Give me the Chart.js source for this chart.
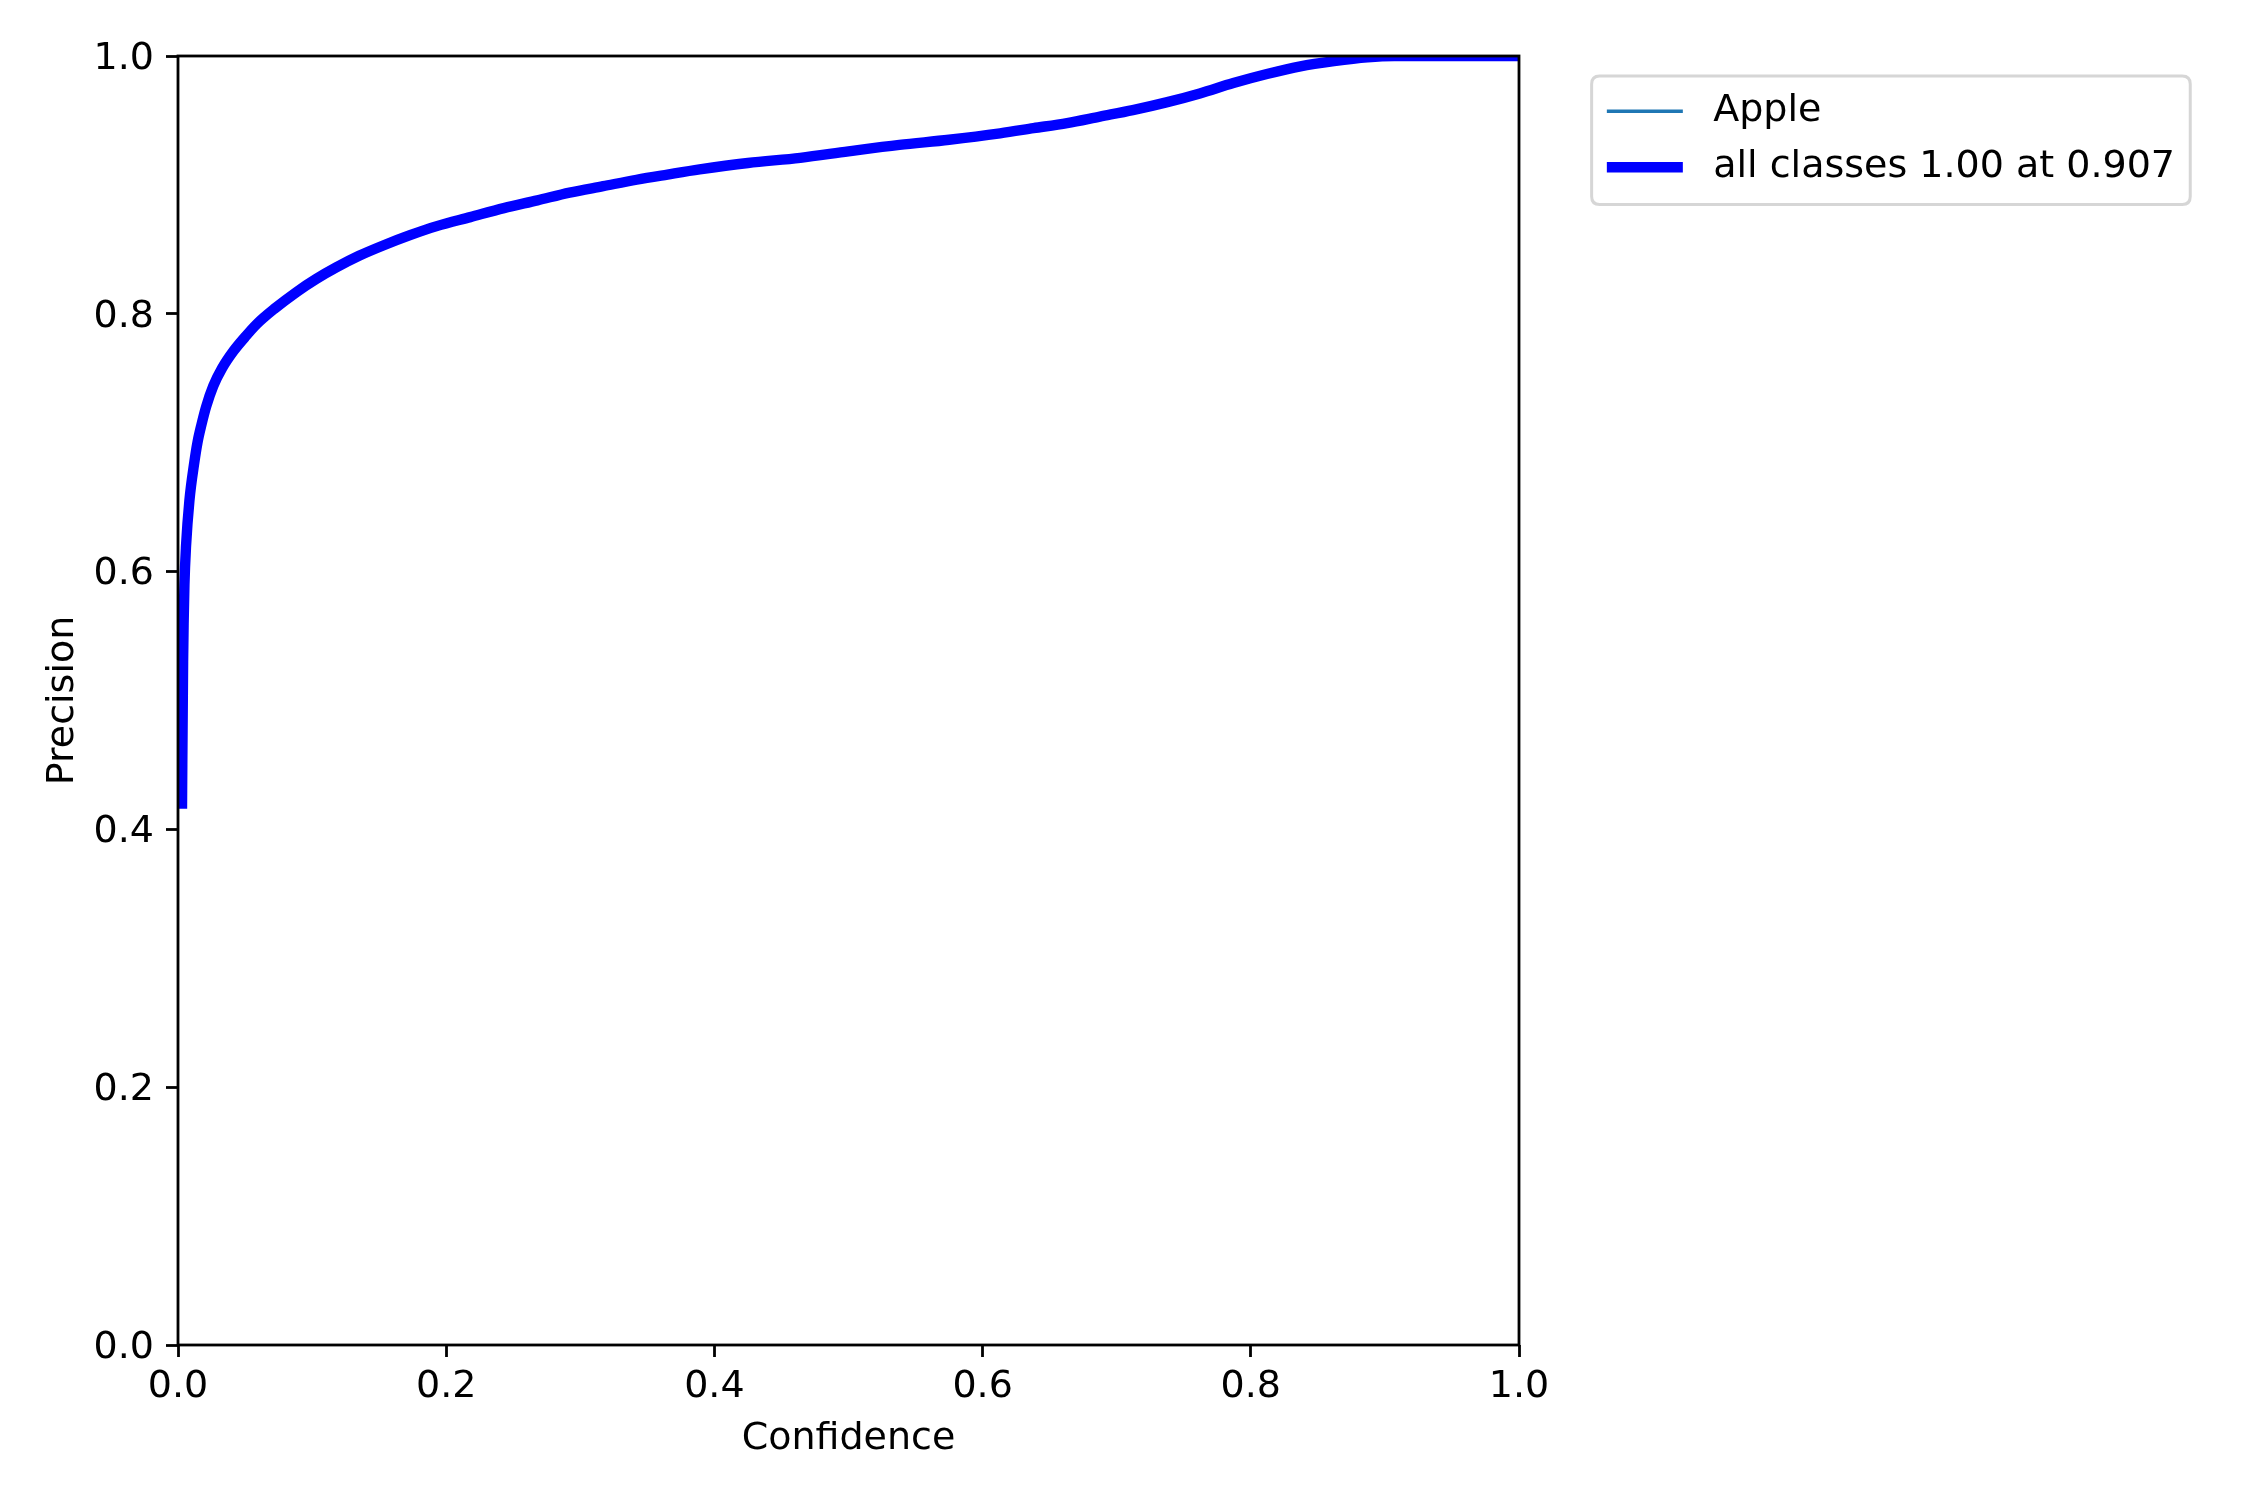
<!DOCTYPE html>
<html>
<head>
<meta charset="utf-8">
<script src="https://cdn.jsdelivr.net/npm/chart.js@4.4.1/dist/chart.umd.min.js"></script>
<style>
html,body{margin:0;padding:0;background:#ffffff;}
canvas{display:block;}
</style>
</head>
<body>
<canvas id="c" width="2250" height="1500"></canvas>
<script>
// ---- data ----
const confidence = [0.003, 0.0032, 0.0035, 0.0038, 0.0042, 0.0048, 0.006, 0.0085, 0.0122, 0.0145, 0.0175, 0.021, 0.0263, 0.033, 0.0413, 0.05, 0.0587, 0.072, 0.0885, 0.103, 0.118, 0.135, 0.153, 0.173, 0.193, 0.218, 0.243, 0.268, 0.292, 0.317, 0.342, 0.365, 0.389, 0.425, 0.464, 0.50, 0.538, 0.575, 0.613, 0.638, 0.663, 0.6875, 0.712, 0.737, 0.762, 0.787, 0.812, 0.837, 0.862, 0.887, 0.907, 1.0];
const precisionAll = [0.42, 0.45, 0.49, 0.53, 0.56, 0.59, 0.62, 0.655, 0.685, 0.70, 0.714, 0.728, 0.744, 0.758, 0.771, 0.782, 0.792, 0.804, 0.817, 0.827, 0.836, 0.845, 0.853, 0.861, 0.868, 0.875, 0.882, 0.888, 0.894, 0.899, 0.904, 0.908, 0.912, 0.917, 0.921, 0.926, 0.931, 0.935, 0.940, 0.944, 0.948, 0.953, 0.958, 0.964, 0.971, 0.979, 0.986, 0.992, 0.996, 0.999, 1.0, 1.0];
// single class: the class curve is the same as the all-classes curve
const precisionApple = precisionAll.slice();
const seriesNames = ['Apple', 'all classes 1.00 at 0.907'];
const xTickValues = [0, 0.2, 0.4, 0.6, 0.8, 1.0];
const xTickLabels = ['0.0', '0.2', '0.4', '0.6', '0.8', '1.0'];
const yTickValues = [0, 0.2, 0.4, 0.6, 0.8, 1.0];
const yTickLabels = ['0.0', '0.2', '0.4', '0.6', '0.8', '1.0'];
const xTitle = 'Confidence';
const yTitle = 'Precision';

// ---- styling ----
const FONT = 'DejaVu Sans';
const FS = 38;
const toPts = (xs, ys) => xs.map((x, i) => ({x: x, y: ys[i]}));

const spinesPlugin = {
  id: 'spines',
  afterDatasetsDraw(chart) {
    const {ctx, chartArea: a} = chart;
    ctx.save();
    ctx.strokeStyle = '#000000';
    ctx.lineWidth = 2.8;
    ctx.strokeRect(a.left, a.top, a.right - a.left, a.bottom - a.top);
    ctx.restore();
  }
};

const legendPlugin = {
  id: 'mplLegend',
  afterDraw(chart) {
    const {ctx, chartArea: a} = chart;
    const ds = chart.data.datasets;
    ctx.save();
    ctx.font = FS + 'px "' + FONT + '"';
    const pad = 0.4 * FS, handleLen = 2.0 * FS, textPad = 0.8 * FS, axPad = 0.5 * FS;
    const rowH = 56;
    const L = a.right + 0.04 * (a.right - a.left) + axPad;
    const T = a.top + axPad + 1;
    let maxW = 0;
    ds.forEach(d => { maxW = Math.max(maxW, ctx.measureText(d.label).width); });
    const W = pad + handleLen + textPad + maxW + pad;
    const H = pad * 2 + rowH * ds.length - 14;
    // box
    const r = 8;
    ctx.beginPath();
    ctx.moveTo(L + r, T);
    ctx.lineTo(L + W - r, T);
    ctx.quadraticCurveTo(L + W, T, L + W, T + r);
    ctx.lineTo(L + W, T + H - r);
    ctx.quadraticCurveTo(L + W, T + H, L + W - r, T + H);
    ctx.lineTo(L + r, T + H);
    ctx.quadraticCurveTo(L, T + H, L, T + H - r);
    ctx.lineTo(L, T + r);
    ctx.quadraticCurveTo(L, T, L + r, T);
    ctx.closePath();
    ctx.fillStyle = '#ffffff';
    ctx.fill();
    ctx.strokeStyle = '#d6d6d6';
    ctx.lineWidth = 3;
    ctx.stroke();
    // rows
    ds.forEach((d, i) => {
      const cy = T + pad + 20 + i * rowH;
      ctx.beginPath();
      ctx.strokeStyle = d.borderColor;
      ctx.lineWidth = d.borderWidth;
      ctx.lineCap = 'butt';
      ctx.moveTo(L + pad, cy);
      ctx.lineTo(L + pad + handleLen, cy);
      ctx.stroke();
      ctx.fillStyle = '#000000';
      ctx.textBaseline = 'middle';
      ctx.textAlign = 'left';
      ctx.fillText(d.label, L + pad + handleLen + textPad, cy);
    });
    ctx.restore();
  }
};

const tickGrid = {display: true, drawOnChartArea: false, drawTicks: true, tickLength: 12, tickWidth: 2.8, tickColor: '#000000'};

new Chart(document.getElementById('c'), {
  type: 'line',
  data: {
    datasets: [
      {
        label: seriesNames[0],
        data: toPts(confidence, precisionApple),
        borderColor: '#1f77b4',
        borderWidth: 3.5,
        pointRadius: 0,
        fill: false,
        cubicInterpolationMode: 'monotone',
        clip: 0,
        order: 1
      },
      {
        label: seriesNames[1],
        data: toPts(confidence, precisionAll),
        borderColor: '#0000ff',
        borderWidth: 10.4,
        pointRadius: 0,
        fill: false,
        cubicInterpolationMode: 'monotone',
        borderCapStyle: 'square',
        borderJoinStyle: 'round',
        clip: 0,
        order: 0
      }
    ]
  },
  options: {
    responsive: false,
    devicePixelRatio: 1,
    animation: false,
    events: [],
    layout: {padding: {left: 0, top: 56, right: 731, bottom: 0}},
    plugins: {legend: {display: false}, tooltip: {enabled: false}},
    scales: {
      x: {
        type: 'linear',
        min: 0, max: 1,
        afterBuildTicks: s => { s.ticks = xTickValues.map(v => ({value: v})); },
        afterFit: s => { s.height = 155; },
        ticks: {
          autoSkip: false, maxRotation: 0, padding: 7,
          color: '#000000',
          font: {family: FONT, size: FS},
          callback: (v, i) => xTickLabels[i]
        },
        grid: tickGrid,
        border: {display: false},
        title: {display: true, text: xTitle, color: '#000000', font: {family: FONT, size: FS}, padding: {top: 0, bottom: 38}}
      },
      y: {
        type: 'linear',
        min: 0, max: 1,
        afterBuildTicks: s => { s.ticks = yTickValues.map(v => ({value: v})); },
        afterFit: s => { s.width = 178; },
        ticks: {
          autoSkip: false, padding: 12, labelOffset: 3,
          color: '#000000',
          font: {family: FONT, size: FS},
          callback: (v, i) => yTickLabels[i]
        },
        grid: tickGrid,
        border: {display: false},
        title: {display: true, text: yTitle, color: '#000000', font: {family: FONT, size: FS}, padding: {top: 40, bottom: 0}}
      }
    }
  },
  plugins: [spinesPlugin, legendPlugin]
});
</script>
</body>
</html>
